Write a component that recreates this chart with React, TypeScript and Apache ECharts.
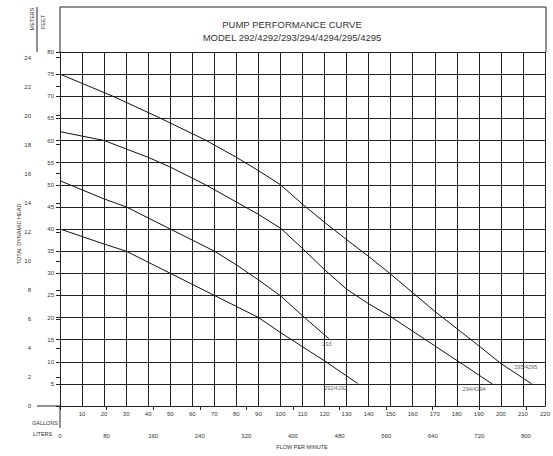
import React, { useEffect, useRef } from "react";
import * as echarts from "echarts";

// ---- data ----
const gpm295 = [0, 24, 44, 66, 80, 90, 100, 110, 120, 130, 140, 150, 160, 170, 180, 190, 200, 214];
const ft295 = [75, 70, 65.4, 60.1, 56.2, 53.2, 50, 45.6, 41.5, 37.6, 33.8, 29.8, 25.6, 21.4, 17.5, 13.6, 9.6, 5];

const gpm294 = [0, 20, 40, 50, 66, 80, 90, 100, 110, 120, 130, 140, 150, 160, 170, 180, 190, 196];
const ft294 = [62, 60, 56.2, 54, 50, 46.1, 43.3, 40.2, 35.6, 30.8, 26.4, 23.1, 20.2, 16.9, 13.6, 10.3, 7.0, 5];

const gpm293 = [0, 20, 30, 50, 70, 80, 90, 100, 110, 122];
const ft293 = [50.9, 46.8, 45, 40, 35, 31.9, 28.5, 24.9, 20.4, 15.2];

const gpm292 = [0, 10, 20, 30, 50, 70, 90, 100, 110, 120, 135];
const ft292 = [40, 38.3, 36.6, 35, 30, 25, 20, 16.6, 13.4, 10.2, 5.1];

const curveNames = ["295/4295", "294/4294", "293", "292/4292"];

const gallonTicks = [10, 20, 30, 40, 50, 60, 70, 80, 90, 100, 110, 120, 130, 140, 150, 160, 170, 180, 190, 200, 210, 220];
const literTicks = [0, 80, 160, 240, 320, 400, 480, 560, 640, 720, 800];
const feetTicks = [5, 10, 15, 20, 25, 30, 35, 40, 45, 50, 55, 60, 65, 70, 75, 80];
const meterTicks = [0, 2, 4, 6, 8, 10, 12, 14, 16, 18, 20, 22, 24];

const GAL_MAX = 220;
const FT_MAX = 80;
const L_PER_GAL = 3.785411784;
const M_PER_FT = 0.3048;

const FONT = '"Liberation Sans Narrow", "Arial Narrow", "Liberation Sans", Arial, sans-serif';
const INK = "#222";

const zip = (xs: number[], ys: number[]) => xs.map((x, i) => [x, ys[i]]);

export default function App() {
  const ref = useRef<HTMLDivElement>(null);

  useEffect(() => {
    if (!ref.current) return;
    const chart = echarts.init(ref.current, undefined, { renderer: "svg" });

    const L = 60, T = 52, R = 7, B = 50;
    const W = 553, H = 456;
    const plotRight = W - R;
    const plotBottom = H - B;
    const meterX = L - 23;
    const headerTop = 7;

    const curves = [zip(gpm295, ft295), zip(gpm294, ft294), zip(gpm293, ft293), zip(gpm292, ft292)];
    const labelOffsets: [number, number][] = [[-6, -17], [-18, 5], [-2, 5], [-22, 5]];

    const lineSeries = curves.map((d, i) => ({
      type: "line",
      name: curveNames[i],
      data: d,
      smooth: false,
      symbol: "none",
      lineStyle: { color: "#111", width: 1 },
      xAxisIndex: 0,
      yAxisIndex: 0,
      silent: true,
      z: 5,
    }));

    const labelSeries = {
      type: "scatter",
      xAxisIndex: 0,
      yAxisIndex: 0,
      symbolSize: 1,
      itemStyle: { color: "rgba(0,0,0,0)" },
      silent: true,
      z: 6,
      data: curves.map((d, i) => ({
        value: d[d.length - 1],
        label: {
          show: true,
          position: "inside",
          offset: labelOffsets[i],
          formatter: curveNames[i],
          fontSize: 5.5,
          color: "#333",
          fontFamily: FONT,
        },
      })),
    };

    const lineEl = (x1: number, y1: number, x2: number, y2: number) => ({
      type: "line",
      shape: { x1, y1, x2, y2 },
      style: { stroke: INK, lineWidth: 1 },
      silent: true,
    });
    const textEl = (x: number, y: number, text: string, size: number, extra: any = {}) => ({
      type: "text",
      x,
      y,
      style: {
        text,
        fontSize: size,
        fontFamily: FONT,
        fill: "#333",
        align: "center",
        verticalAlign: "middle",
        ...(extra.style || {}),
      },
      rotation: extra.rotation || 0,
      silent: true,
    });

    chart.setOption({
      animation: false,
      backgroundColor: "#fff",
      grid: { left: L, top: T, right: R, bottom: B },
      xAxis: [
        {
          type: "value",
          min: 0,
          max: GAL_MAX,
          interval: 10,
          position: "bottom",
          axisLine: { show: true, lineStyle: { color: INK, width: 1 } },
          axisTick: { show: false },
          axisLabel: {
            customValues: gallonTicks,
            fontSize: 6,
            color: "#333",
            fontFamily: FONT,
            margin: 5,
          },
          splitLine: { show: true, lineStyle: { color: INK, width: 1 } },
        },
        {
          type: "value",
          min: 0,
          max: GAL_MAX * L_PER_GAL,
          position: "bottom",
          offset: 22,
          axisLine: { show: true, lineStyle: { color: INK, width: 1 } },
          axisTick: { show: true, customValues: literTicks, length: 4, lineStyle: { color: INK } },
          axisLabel: {
            customValues: literTicks,
            fontSize: 6,
            color: "#333",
            fontFamily: FONT,
            margin: 5,
          },
          splitLine: { show: false },
        },
      ],
      yAxis: [
        {
          type: "value",
          min: 0,
          max: FT_MAX,
          interval: 5,
          position: "left",
          axisLine: { show: true, lineStyle: { color: INK, width: 1 } },
          axisTick: { show: true, length: 4, lineStyle: { color: INK } },
          axisLabel: {
            customValues: feetTicks,
            fontSize: 6,
            color: "#333",
            fontFamily: FONT,
            margin: 6,
          },
          splitLine: { show: true, lineStyle: { color: INK, width: 1 } },
        },
        {
          type: "value",
          min: 0,
          max: FT_MAX * M_PER_FT,
          position: "left",
          offset: 23,
          axisLine: { show: true, lineStyle: { color: INK, width: 1 } },
          axisTick: { show: true, customValues: meterTicks, length: 4, lineStyle: { color: INK } },
          axisLabel: {
            customValues: meterTicks,
            fontSize: 6,
            color: "#333",
            fontFamily: FONT,
            margin: 6,
          },
          splitLine: { show: false },
        },
      ],
      series: [...lineSeries, labelSeries],
      graphic: [
        lineEl(L, headerTop, plotRight, headerTop),
        lineEl(L, headerTop, L, T),
        lineEl(plotRight, headerTop, plotRight, T),
        lineEl(meterX, headerTop, meterX, T),
        lineEl(meterX, plotBottom, L, plotBottom),
        lineEl(L, plotBottom, L, plotBottom + 22),
        textEl(292, 24, "PUMP PERFORMANCE CURVE", 9.5),
        textEl(292, 37, "MODEL 292/4292/293/294/4294/295/4295", 9.5),
        textEl(32, 19, "METERS", 5.5, { rotation: Math.PI / 2 }),
        textEl(43, 22, "FEET", 5.5, { rotation: Math.PI / 2 }),
        textEl(19, 234, "TOTAL DYNAMIC HEAD", 5.5, { rotation: Math.PI / 2 }),
        textEl(32, 423, "GALLONS", 5.5, { style: { align: "left" } }),
        textEl(33, 434, "LITERS", 5.5, { style: { align: "left" } }),
        textEl(302, 447, "FLOW PER MINUTE", 5.5),
      ],
    });

    return () => chart.dispose();
  }, []);

  return (
    <div
      ref={ref}
      style={{ position: "fixed", left: 0, top: 0, width: 553, height: 456 }}
    />
  );
}
